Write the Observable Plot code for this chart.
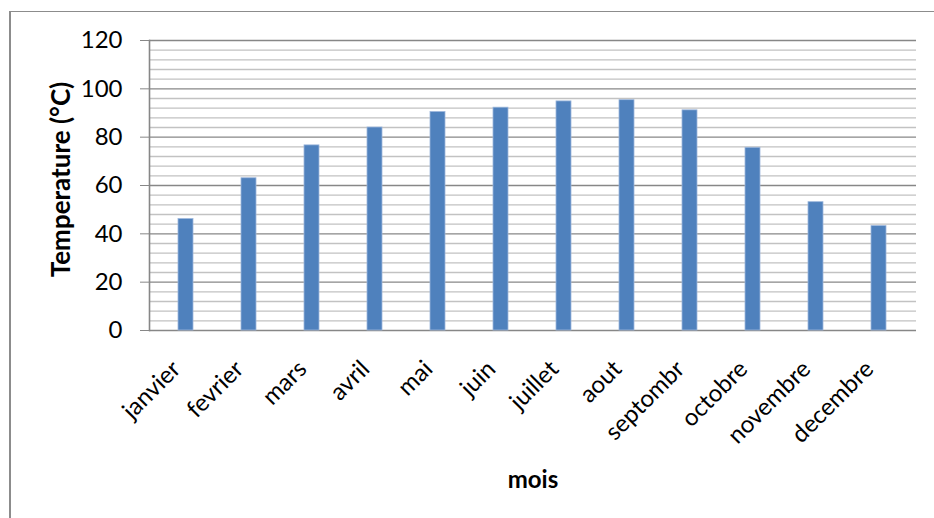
<!DOCTYPE html>
<html>
<head>
<meta charset="utf-8">
<script src="https://cdn.jsdelivr.net/npm/d3@7"></script>
<script src="https://cdn.jsdelivr.net/npm/@observablehq/plot@0.6"></script>
<style>
  html, body { margin: 0; padding: 0; background: #fff; }
  #chart { position: relative; width: 934px; height: 518px; overflow: hidden; }
  #chart .box {
    position: absolute; left: 9px; top: 11px; right: -4px; bottom: -4px;
    border-top: 1.5px solid #8c8c8c; border-left: 2px solid #8c8c8c;
    pointer-events: none;
  }
  #chart svg { position: absolute; left: 0; top: 0; }
</style>
</head>
<body>
<div id="chart"><div class="box"></div></div>
<script>
// Monthly temperatures
const months = ["janvier", "fevrier", "mars", "avril", "mai", "juin",
  "juillet", "aout", "septombr", "octobre", "novembre", "decembre"];
const temperatures = [46.1, 63, 76.6, 84, 90.4, 92.2, 94.8, 95.3, 91.1, 75.6, 53.1, 43.2];

const yTicks = [0, 20, 40, 60, 80, 100, 120];
const yMinorTicks = d3.range(0, 121, 4);
const yLabel = "Temperature (°C)";
const xLabel = "mois";

const data = months.map((m, i) => ({month: m, temp: temperatures[i]}));

const chart = Plot.plot({
  width: 934,
  height: 518,
  marginLeft: 149,
  marginRight: 18,
  marginTop: 40,
  marginBottom: 188,
  style: {fontFamily: "Lato, sans-serif", fontSize: "24px", background: "transparent", color: "#000", overflow: "visible"},
  x: {domain: months, paddingInner: 0.755, paddingOuter: 0.3775, axis: null},
  y: {domain: [0, 120], axis: null},
  marks: [
    // minor and major horizontal gridlines
    Plot.ruleY(yMinorTicks.filter(v => v % 20 !== 0), {stroke: "#c2c2c2", strokeWidth: 1.4}),
    Plot.ruleY(yTicks, {stroke: "#878787", strokeWidth: 1.4}),
    Plot.barY(data, {x: "month", y: "temp", fill: "#4f81bd", stroke: "#9db7dc", strokeWidth: 0.8}),
    Plot.frame({anchor: "left", stroke: "#878787", strokeWidth: 1.6}),
    Plot.axisY({ticks: yTicks, tickSize: 9, tickPadding: 18, stroke: "#878787", label: null, fontSize: 24}),
    // rotated month labels
    Plot.text(months, {x: d => d, frameAnchor: "bottom", text: d => d, rotate: -45,
      textAnchor: "end", lineAnchor: "bottom", dx: -4, dy: 40, fontSize: 24, fill: "#000"}),
    Plot.text([yLabel], {frameAnchor: "left", text: d => d, rotate: -90, dx: -88, dy: -6,
      textAnchor: "middle", lineAnchor: "middle", fontWeight: "bold", fontSize: 26, fill: "#000"}),
    Plot.text([xLabel], {frameAnchor: "bottom", text: d => d, dy: 157,
      textAnchor: "middle", lineAnchor: "bottom", fontWeight: "bold", fontSize: 24, fill: "#000"})
  ]
});
document.getElementById("chart").appendChild(chart);
</script>
</body>
</html>
